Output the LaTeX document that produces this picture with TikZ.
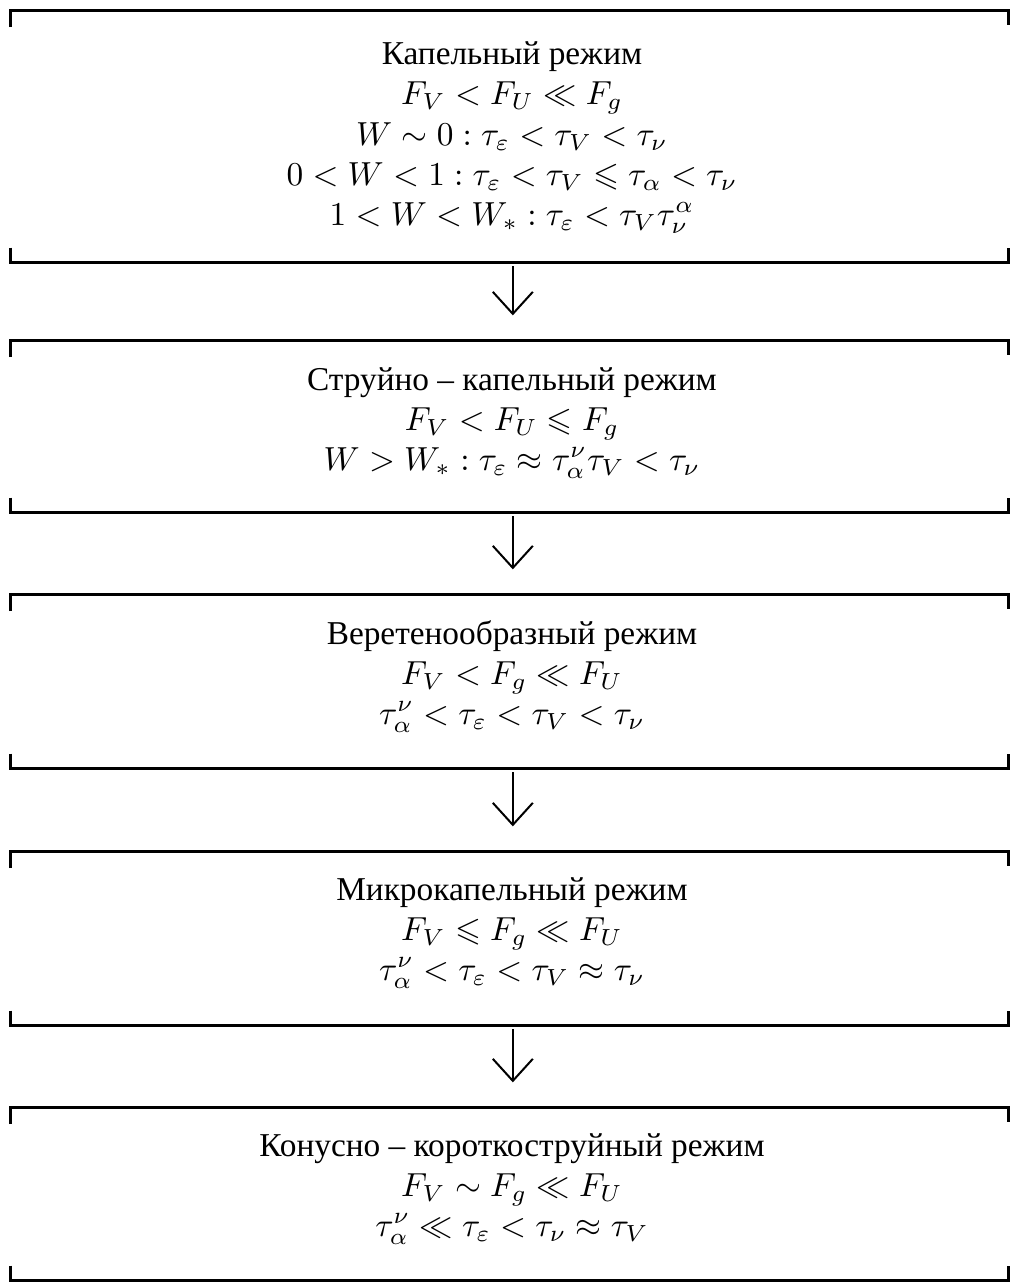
\documentclass[tikz,border=0pt]{standalone}
\usepackage{amssymb}
\usepackage{fontspec}
\newfontfamily\cyr{Liberation Serif}
\usetikzlibrary{arrows.meta}

\begin{document}
\begin{tikzpicture}[x=0.3pt,y=-0.3pt,
  frame/.style={rectangle, draw=none, minimum width=299.1pt, inner sep=0pt},
  rule/.style={line width=0.8pt, line join=miter},
  title/.style={anchor=base, font=\cyr, inner sep=0pt},
  formula/.style={anchor=base, inner sep=0pt},
  flow/.style={line width=0.6pt, shorten <=1pt, shorten >=7.5pt,
    -{Straight Barb[length=6.6pt, width=12pt, line width=0.6pt]}}]
\useasboundingbox (0,0) rectangle (1010,1282);

% regime frames
\node[frame, minimum height=75.3pt] (f1) at (509.5,136.5) {};
\node[frame, minimum height=51.3pt] (f2) at (509.5,426.5) {};
\node[frame, minimum height=51.9pt] (f3) at (509.5,681.5) {};
\node[frame, minimum height=51.9pt] (f4) at (509.5,938.5) {};
\node[frame, minimum height=51.6pt] (f5) at (509.5,1194) {};

% bracket rules above and below each regime
\foreach \f in {f1,f2,f3,f4,f5}{
  \draw[rule] ([yshift=-5pt]\f.north west) -- (\f.north west) -- (\f.north east) -- ([yshift=-4.5pt]\f.north east);
  \draw[rule] ([yshift=4.5pt]\f.south west) -- (\f.south west) -- (\f.south east) -- ([yshift=4.5pt]\f.south east);
}

% regime 1
\node[title]   (t1)  at (512,64)  {Капельный режим};
\node[formula] (t1a) at (512,104) {$F_V < F_U \ll F_g$};
\node[formula] (t1b) at (512,145) {$W \sim 0 : \tau_\varepsilon < \tau_V < \tau_\nu$};
\node[formula] (t1c) at (512,185) {$0 < W < 1 : \tau_\varepsilon < \tau_V \leqslant \tau_\alpha < \tau_\nu$};
\node[formula] (t1d) at (512,225) {$1 < W < W_* : \tau_\varepsilon < \tau_V \tau_\nu^\alpha$};

% regime 2
\node[title]   (t2)  at (512,390) {Струйно – капельный режим};
\node[formula] (t2a) at (512,430) {$F_V < F_U \leqslant F_g$};
\node[formula] (t2b) at (512,470) {$W > W_* : \tau_\varepsilon \approx \tau_\alpha^\nu \tau_V < \tau_\nu$};

% regime 3
\node[title]   (t3)  at (512,644) {Веретенообразный режим};
\node[formula] (t3a) at (512,684) {$F_V < F_g \ll F_U$};
\node[formula] (t3b) at (512,724) {$\tau_\alpha^\nu < \tau_\varepsilon < \tau_V < \tau_\nu$};

% regime 4
\node[title]   (t4)  at (512,900) {Микрокапельный режим};
\node[formula] (t4a) at (512,940) {$F_V \leqslant F_g \ll F_U$};
\node[formula] (t4b) at (512,980) {$\tau_\alpha^\nu < \tau_\varepsilon < \tau_V \approx \tau_\nu$};

% regime 5
\node[title]   (t5)  at (512,1156) {Конусно – короткоструйный режим};
\node[formula] (t5a) at (512,1196) {$F_V \sim F_g \ll F_U$};
\node[formula] (t5b) at (512,1236) {$\tau_\alpha^\nu \ll \tau_\varepsilon < \tau_\nu \approx \tau_V$};

% transitions between regimes
\draw[flow] ([xshift=1pt]f1.south) -- ([xshift=1pt]f2.north);
\draw[flow] ([xshift=1pt]f2.south) -- ([xshift=1pt]f3.north);
\draw[flow] ([xshift=1pt]f3.south) -- ([xshift=1pt]f4.north);
\draw[flow] ([xshift=1pt]f4.south) -- ([xshift=1pt]f5.north);
\end{tikzpicture}
\end{document}
